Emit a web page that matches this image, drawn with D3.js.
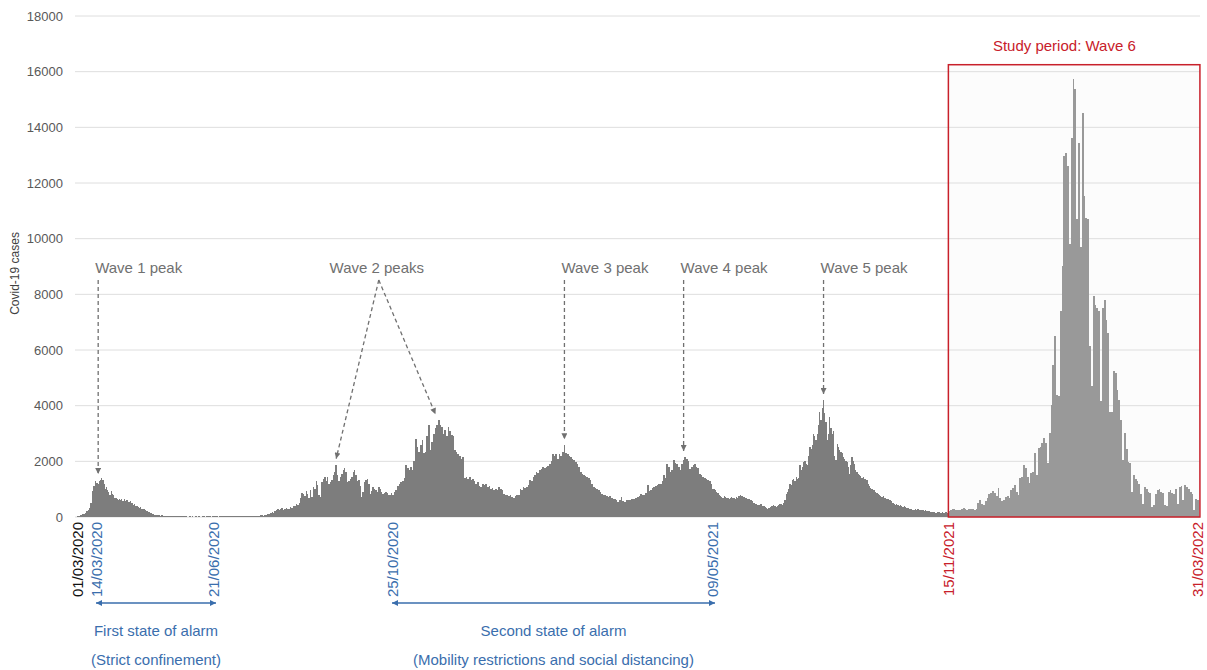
<!DOCTYPE html>
<html><head><meta charset="utf-8">
<script src="https://cdn.jsdelivr.net/npm/d3@7"></script>
<style>
body{margin:0;background:#fff}
svg{display:block}
text{font-family:"Liberation Sans",Arial,Helvetica,sans-serif}
</style>
</head><body>
<svg id="chart" width="1207" height="670"></svg>
<script>
// ---------------- DATA (daily Covid-19 cases) ----------------
const startDate = "2020-03-01";
const mar2020 = [20,40,60,90,110,150,200,260,330,520,940,1100,1300,1220,1180,1280,1330,1400,1320,1180,1000,1060,980,900,800,940,820,780,700,690,650];
const apr2020 = [620,660,600,640,580,650,560,600,620,540,580,500,520,430,470,400,380,350,330,360,300,270,290,240,220,200,180,150,130,110];
const may2020 = [90,80,70,60,70,60,50,55,45,50,40,45,40,35,40,30,35,30,30,25,30,25,20,25,20,20,25,20,20,15,20];
const jun2020 = [20,15,20,15,20,25,15,20,20,15,20,25,20,15,20,20,25,20,15,20,20,25,20,15,20,25,30,20,25,30];
const jul2020 = [25,30,20,30,25,20,30,35,25,30,35,30,25,40,35,30,40,45,35,40,50,45,40,55,60,50,65,70,90,110,140];
const aug2020 = [180,160,220,250,280,240,300,330,260,290,340,280,300,370,320,400,380,450,420,520,700,880,820,760,940,840,700,960,720,1080,1000];
const sep2020 = [1300,1150,780,720,1250,1380,1420,1300,1450,1200,1250,1320,1500,1600,1880,1500,1300,1450,1560,1700,1750,1620,1250,1300,1380,1420,1600,1680,1500,1300];
const oct2020 = [1320,1100,720,900,1260,1320,1380,1200,840,950,1080,1000,960,900,1080,1000,900,840,880,900,860,780,800,850,780,900,960,1100,1200,1260,1300];
const nov2020 = [1400,1860,1750,1680,1800,1700,2000,2820,2500,2340,2600,2760,2300,2340,2900,3300,2400,2700,3000,3200,3300,3480,3300,3240,3000,3120,2900,3240,3100,2940];
const dec2020 = [2900,2400,2340,2250,2200,2100,2150,1400,1450,1380,1440,1320,1380,1300,1200,1250,1100,1080,1200,1150,1200,1080,1100,1020,1050,960,1000,980,1080,1000,960];
const jan2021 = [840,800,780,760,780,720,700,740,780,800,1020,980,1080,1050,1080,1150,1320,1280,1440,1500,1620,1580,1700,1740,1800,1760,1800,1850,1920,2000,2280];
const feb2021 = [2200,2280,2100,2250,2200,2350,2580,2300,2280,2200,2160,2100,2040,1980,1900,1800,1620,1560,1500,1480,1440,1400,1320,1200,1080,1050,1020,960];
const mar2021 = [900,840,800,780,760,720,740,700,660,640,600,540,620,720,560,540,600,620,600,660,640,660,700,720,760,840,800,780,880,1140,950];
const apr2021 = [960,1050,1080,1100,1140,1200,1180,1300,1500,1400,1920,1800,1620,1700,2040,1950,1920,1800,1680,1900,2040,2160,2100,2000,1740,1800,1860,1900,1800,1750];
const may2021 = [1560,1500,1440,1400,1380,1320,1300,1200,1020,1000,960,900,850,780,760,720,700,740,720,700,680,660,700,720,680,700,660,720,700,760,780];
const jun2021 = [760,740,720,700,680,660,640,620,600,560,500,480,460,420,440,480,460,400,380,360,320,300,340,360,380,400,420,380,360,400];
const jul2021 = [420,460,480,440,500,620,840,900,1000,1200,1150,1320,1380,1300,1440,1380,1400,1860,1700,1800,1980,2000,1920,1880,2200,2520,2450,2600,3000,2900,2760];
const aug2021 = [3000,3300,3780,3500,3900,4200,3720,3400,2760,3000,3600,3180,3000,3100,2200,2040,2640,2500,2400,2340,2300,2160,2100,2000,1980,1800,1560,1860,2160,2000,1900];
const sep2021 = [1700,1620,1550,1500,1480,1400,1440,1380,1350,1320,1200,1100,1050,1020,980,960,900,880,840,800,760,720,740,700,680,660,640,620,600,580];
const oct2021 = [500,480,440,460,420,400,420,380,360,380,360,340,320,300,280,300,260,240,280,260,300,250,240,260,240,220,240,230,210,200,180];
const nov2021 = [180,170,190,160,150,170,180,160,150,170,160,180,170,160,220,260,280,300,240,250,260,300,320,280,260,270,280,300,260,300];
const dec2021 = [520,620,480,440,560,690,820,880,920,860,740,1040,700,564,624,720,760,684,984,1050,1164,900,804,1390,1450,1870,1750,1450,1210,1570,1630];
const jan2022 = [2290,1510,2470,2530,2650,2830,2650,1930,3010,4030,5470,6490,4390,4330,7390,9010,12970,13090,12610,9800,13630,15730,15370,10690,13450,9700,14530,11530,10750,10690,6130];
const feb2022 = [4690,7930,7630,7510,7390,4150,7510,7810,7090,6610,3790,3790,5230,5170,4570,4210,3490,2050,3010,2460,1980,1930,900,1500,1380,1300,1200,840];
const mar2022 = [480,1080,1000,900,880,360,420,840,960,1020,900,880,420,400,900,960,880,840,1020,480,1080,1100,600,1140,1080,1020,900,840,240,660,600];

const monthlySeries = [mar2020,apr2020,may2020,jun2020,jul2020,aug2020,sep2020,oct2020,nov2020,dec2020,
  jan2021,feb2021,mar2021,apr2021,may2021,jun2021,jul2021,aug2021,sep2021,oct2021,nov2021,dec2021,
  jan2022,feb2022,mar2022];

const yTicks = [0,2000,4000,6000,8000,10000,12000,14000,16000,18000];
const yTitle = "Covid-19 cases";

// x-axis date labels (start, state-of-alarm periods, study period)
const startLabel = "2020-03-01";
const alarmPeriods = [
  {start:"2020-03-14", end:"2020-06-21", line1:"First state of alarm", line2:"(Strict confinement)"},
  {start:"2020-10-25", end:"2021-05-09", line1:"Second state of alarm", line2:"(Mobility restrictions and social distancing)"}
];
const studyStart = "2021-11-15", studyEnd = "2022-03-31";
const studyTitle = "Study period: Wave 6";
const studyTitleDate = "2022-01-17";
const studyBoxTop = 16250;

// wave peak annotations
const peakLabels = ["Wave 1 peak","Wave 2 peaks","Wave 3 peak","Wave 4 peak","Wave 5 peak"];
const peakDates = [["2020-03-15"],["2020-09-15","2020-11-20"],["2021-02-07"],["2021-04-21"],["2021-08-06"]];
const wave2LabelDate = "2020-10-15";

// ---------------- LAYOUT ----------------
const W = 1207, H = 670;
const plotLeft = 75, plotRight = 1200, plotTop = 16, plotBottom = 517;
const parse = d3.utcParse("%Y-%m-%d");
const fmt = d3.utcFormat("%d/%m/%Y");
const DAY = 864e5;

// anchor positions of the labelled dates along the axis
const knotDates = [startLabel, "2020-03-14","2020-06-21","2020-10-25","2021-05-09", studyStart, studyEnd];
const knotX = [78, 97, 214, 393, 713, 949, 1198];
const x = d3.scaleUtc().domain(knotDates.map(parse)).range(knotX);
const y = d3.scaleLinear().domain([0, 18000]).range([plotBottom, plotTop]);

// build daily records
const values = monthlySeries.flat();
const t0 = parse(startDate);
const data = values.map((v,i)=>({date:new Date(t0.getTime()+i*DAY), value:v}));
const sStart = parse(studyStart), sEnd = parse(studyEnd);
const edge = (d, s) => Math.round(x(new Date(d.getTime()+s*DAY/2)));

const svg = d3.select("#chart");
const colTick = "#595959", colBlue = "#3a6ead", colRed = "#c8202a", colAnn = "#707070";

// study box background
const boxX0 = x(new Date(sStart.getTime()-DAY/2)), boxX1 = x(new Date(sEnd.getTime()+DAY/2)) + 1;
svg.append("rect").attr("x",boxX0).attr("y",y(studyBoxTop)).attr("width",boxX1-boxX0)
   .attr("height",y(0)-y(studyBoxTop)).attr("fill","#fcfcfc");

// gridlines
svg.append("g").selectAll("line").data(yTicks).join("line")
  .attr("x1",plotLeft).attr("x2",plotRight).attr("y1",d=>y(d)).attr("y2",d=>y(d))
  .attr("stroke","#dedede").attr("stroke-width",1);

// y tick labels
svg.append("g").selectAll("text").data(yTicks).join("text")
  .attr("x",63).attr("y",d=>y(d)).attr("dy","0.35em").attr("text-anchor","end")
  .attr("font-size",13).attr("fill",colTick).text(d=>d);

// y title
svg.append("text").attr("transform",`translate(19,${y(8750)}) rotate(-90)`)
  .attr("text-anchor","middle").attr("font-size",12).attr("fill","#404040").text(yTitle);

// bars (contiguous, pixel-snapped like the original columns)
svg.append("g").attr("shape-rendering","crispEdges").selectAll("rect").data(data).join("rect")
  .attr("x",d=>edge(d.date,-1))
  .attr("width",d=>Math.max(1, edge(d.date,1)-edge(d.date,-1)))
  .attr("y",d=>y(d.value)).attr("height",d=>y(0)-y(d.value))
  .attr("fill",d=>d.date>=sStart ? "#999999" : "#7d7d7d");

// study box outline + title
svg.append("rect").attr("x",boxX0).attr("y",y(studyBoxTop)).attr("width",boxX1-boxX0)
   .attr("height",y(0)-y(studyBoxTop)).attr("fill","none").attr("stroke",colRed).attr("stroke-width",1.5);
svg.append("text").attr("x",x(parse(studyTitleDate))).attr("y",y(studyBoxTop)-14)
  .attr("text-anchor","middle").attr("font-size",15).attr("fill",colRed).text(studyTitle);

// rotated date labels
const dateLabels = [{d:startLabel,c:"#111"}]
  .concat(alarmPeriods.flatMap(p=>[{d:p.start,c:colBlue},{d:p.end,c:colBlue}]))
  .concat([{d:studyStart,c:colRed},{d:studyEnd,c:colRed}]);
svg.append("g").selectAll("text").data(dateLabels).join("text")
  .attr("transform",d=>`translate(${x(parse(d.d))},522) rotate(-90)`)
  .attr("dy","0.36em").attr("text-anchor","end").attr("font-size",15)
  .attr("fill",d=>d.c).text(d=>fmt(parse(d.d)));

// markers
const defs = svg.append("defs");
function marker(id, color, w, h){
  defs.append("marker").attr("id",id).attr("viewBox","0 0 10 10").attr("refX",10).attr("refY",5)
    .attr("markerWidth",w).attr("markerHeight",h).attr("markerUnits","userSpaceOnUse").attr("orient","auto-start-reverse")
    .append("path").attr("d","M0,0L10,5L0,10z").attr("fill",color);
}
marker("arrBlue", colBlue, 7, 6);
marker("arrGray", colAnn, 7, 6);

// alarm period arrows and captions
const ag = svg.append("g");
alarmPeriods.forEach(p=>{
  const a = x(parse(p.start)) - 1, b = x(parse(p.end)) + 2;
  ag.append("line").attr("x1",a).attr("x2",b).attr("y1",603).attr("y2",603)
    .attr("stroke",colBlue).attr("stroke-width",1.3)
    .attr("marker-start","url(#arrBlue)").attr("marker-end","url(#arrBlue)");
  ag.append("text").attr("x",(a+b)/2).attr("y",636).attr("text-anchor","middle")
    .attr("font-size",15).attr("fill",colBlue).text(p.line1);
  ag.append("text").attr("x",(a+b)/2).attr("y",665).attr("text-anchor","middle")
    .attr("font-size",15).attr("fill",colBlue).text(p.line2);
});

// wave peak annotations
function localMax(ds){
  const t = parse(ds).getTime();
  return d3.max(data.filter(d=>Math.abs(d.date.getTime()-t)<=2*DAY), d=>d.value);
}
const pg = svg.append("g");
peakLabels.forEach((lab,i)=>{
  const dates = peakDates[i];
  const tips = dates.map(ds=>({x:x(parse(ds)), y:y(localMax(ds))-6}));
  let ox, tx, anchor;
  if (dates.length>1){ ox = x(parse(wave2LabelDate)); tx = ox - 2; anchor="middle"; }
  else { ox = tips[0].x; tx = ox - 3; anchor="start"; }
  pg.append("text").attr("x",tx).attr("y",273).attr("text-anchor",anchor)
    .attr("font-size",15).attr("fill",colAnn).text(lab);
  tips.forEach(t=>{
    pg.append("line").attr("x1",ox).attr("y1",280).attr("x2",t.x).attr("y2",t.y)
      .attr("stroke",colAnn).attr("stroke-width",1.3).attr("stroke-dasharray","4,3")
      .attr("marker-end","url(#arrGray)");
  });
});
</script>
</body></html>
